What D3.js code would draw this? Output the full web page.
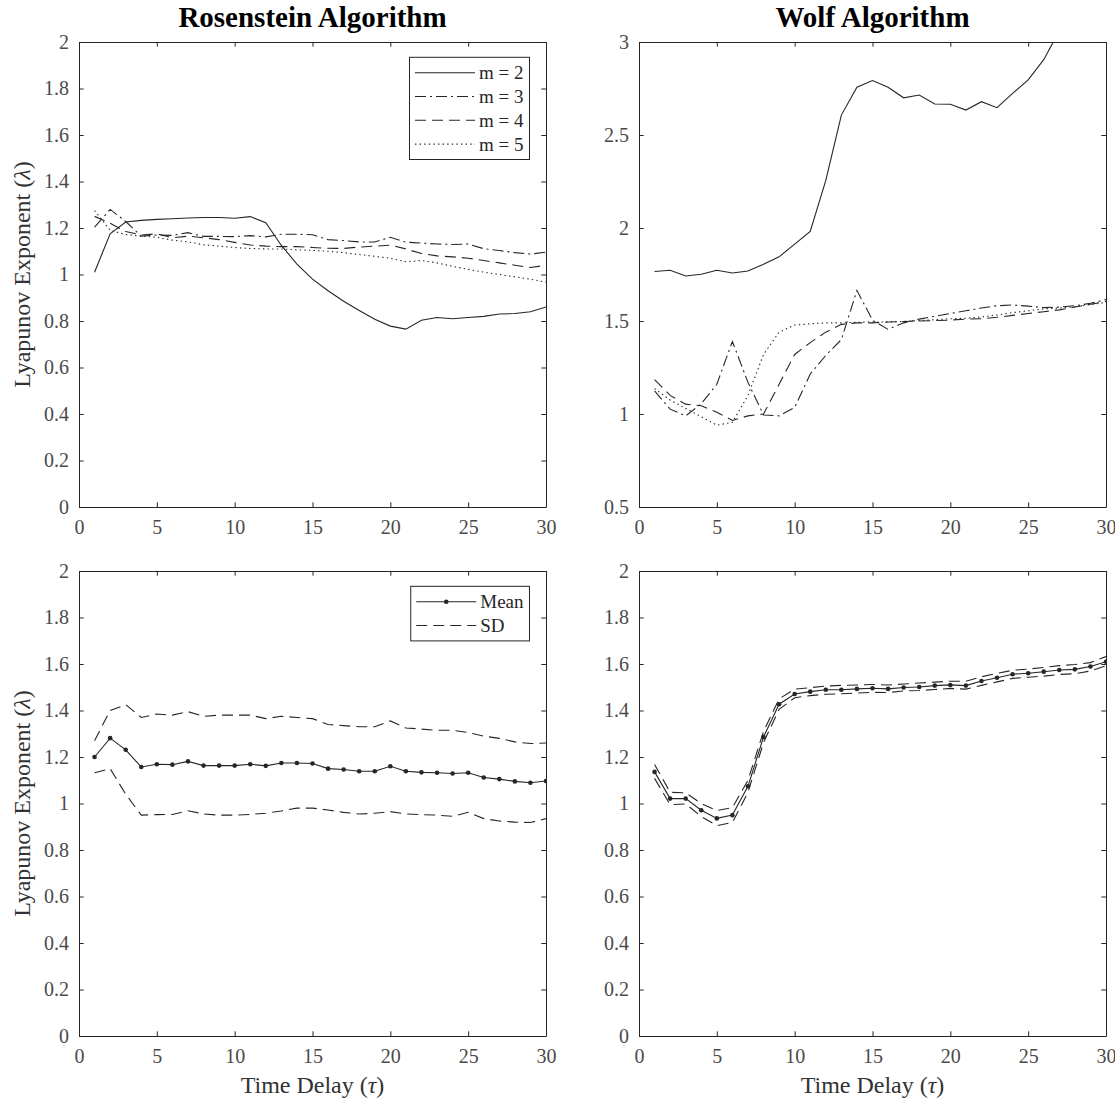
<!DOCTYPE html>
<html>
<head>
<meta charset="utf-8">
<script src="https://cdn.jsdelivr.net/npm/d3@7"></script>
<style>
  body { margin: 0; background: #fff; }
  svg { display: block; }
  svg text { font-family: "Liberation Serif", "Times New Roman", serif; }
</style>
</head>
<body>
<svg id="fig" width="1115" height="1103"></svg>
<script>
// ---- data ---------------------------------------------------------------
const tau = d3.range(1, 31);              // time delay 1..30
const xTicks = [0, 5, 10, 15, 20, 25, 30];
const rosYTicks = [0, 0.2, 0.4, 0.6, 0.8, 1, 1.2, 1.4, 1.6, 1.8, 2];
const wolfYTicks = [0.5, 1, 1.5, 2, 2.5, 3];

// Rosenstein estimates for embedding dimensions m = 2..5
const rosM2 = [1.01, 1.175, 1.226, 1.233, 1.237, 1.240, 1.243, 1.245, 1.245, 1.242,
               1.249, 1.223, 1.125, 1.045, 0.98, 0.93, 0.885, 0.845, 0.808, 0.778,
               0.765, 0.803, 0.815, 0.810, 0.815, 0.820, 0.830, 0.832, 0.840, 0.860];
const rosM3 = [1.204, 1.28, 1.228, 1.165, 1.17, 1.168, 1.18, 1.164, 1.164, 1.163,
               1.167, 1.162, 1.173, 1.173, 1.171, 1.15, 1.146, 1.14, 1.14, 1.16,
               1.139, 1.135, 1.131, 1.129, 1.131, 1.111, 1.103, 1.094, 1.088, 1.096];
const rosM4 = [1.25, 1.22, 1.185, 1.17, 1.175, 1.158, 1.165, 1.158, 1.15, 1.138,
               1.127, 1.122, 1.12, 1.12, 1.116, 1.113, 1.112, 1.118, 1.122, 1.126,
               1.11, 1.09, 1.08, 1.076, 1.07, 1.06, 1.05, 1.04, 1.03, 1.04];
const rosM5 = [1.275, 1.19, 1.172, 1.165, 1.16, 1.148, 1.14, 1.128, 1.122, 1.116,
               1.112, 1.11, 1.11, 1.106, 1.104, 1.10, 1.094, 1.086, 1.078, 1.07,
               1.055, 1.06, 1.05, 1.035, 1.022, 1.01, 1.0, 0.99, 0.98, 0.967];

// Rosenstein mean and the +/- SD envelope
const rosMean  = [1.2, 1.281, 1.231, 1.157, 1.169, 1.167, 1.181, 1.163, 1.163, 1.163,
                  1.169, 1.162, 1.174, 1.174, 1.172, 1.15, 1.146, 1.139, 1.139, 1.16,
                  1.139, 1.134, 1.132, 1.129, 1.132, 1.112, 1.105, 1.095, 1.089, 1.097];
const rosUpper = [1.27, 1.40, 1.425, 1.37, 1.385, 1.38, 1.395, 1.375, 1.38, 1.38,
                  1.38, 1.365, 1.375, 1.37, 1.365, 1.34, 1.335, 1.33, 1.33, 1.355,
                  1.325, 1.32, 1.315, 1.315, 1.305, 1.29, 1.28, 1.265, 1.258, 1.26];
const rosLower = [1.132, 1.15, 1.04, 0.95, 0.952, 0.953, 0.969, 0.955, 0.95, 0.95,
                  0.953, 0.958, 0.968, 0.98, 0.98, 0.972, 0.962, 0.955, 0.958, 0.965,
                  0.955, 0.952, 0.95, 0.945, 0.962, 0.935, 0.925, 0.92, 0.918, 0.935];

// Wolf estimates for embedding dimensions m = 2..5
const wolfM2 = [1.766, 1.773, 1.742, 1.751, 1.773, 1.758, 1.769, 1.805, 1.845, 1.913,
                1.982, 2.256, 2.607, 2.757, 2.793, 2.757, 2.70, 2.715, 2.667, 2.665,
                2.634, 2.679, 2.647, 2.724, 2.796, 2.905, 3.06];
const wolfM3 = [1.124, 1.026, 0.99, 1.055, 1.16, 1.39, 1.17, 0.995, 0.99, 1.035,
                1.215, 1.315, 1.40, 1.665, 1.505, 1.455, 1.49, 1.51, 1.525, 1.54,
                1.555, 1.57, 1.582, 1.586, 1.58, 1.572, 1.575, 1.582, 1.595, 1.615];
const wolfM4 = [1.185, 1.10, 1.053, 1.044, 1.009, 0.965, 0.99, 1.0, 1.16, 1.32,
                1.384, 1.44, 1.482, 1.49, 1.49, 1.495, 1.497, 1.50, 1.502, 1.505,
                1.51, 1.512, 1.52, 1.53, 1.54, 1.55, 1.56, 1.575, 1.59, 1.605];
const wolfM5 = [1.137, 1.075, 1.03, 0.985, 0.94, 0.955, 1.10, 1.32, 1.44, 1.478,
                1.485, 1.49, 1.49, 1.493, 1.495, 1.495, 1.498, 1.502, 1.507, 1.512,
                1.515, 1.522, 1.532, 1.545, 1.555, 1.565, 1.57, 1.577, 1.588, 1.60];

// Wolf mean and the +/- SD envelope
const wolfMean  = [1.136, 1.021, 1.021, 0.971, 0.936, 0.95, 1.074, 1.286, 1.427, 1.471,
                   1.481, 1.489, 1.489, 1.493, 1.496, 1.493, 1.499, 1.501, 1.507, 1.51,
                   1.507, 1.527, 1.541, 1.556, 1.56, 1.567, 1.574, 1.577, 1.589, 1.61];
const wolfUpper = [1.168, 1.048, 1.046, 1.0, 0.97, 0.982, 1.10, 1.31, 1.45, 1.492,
                   1.498, 1.505, 1.508, 1.51, 1.512, 1.51, 1.514, 1.518, 1.522, 1.526,
                   1.526, 1.545, 1.56, 1.573, 1.578, 1.585, 1.593, 1.598, 1.606, 1.632];
const wolfLower = [1.108, 0.995, 0.998, 0.944, 0.905, 0.918, 1.048, 1.262, 1.405, 1.455,
                   1.464, 1.47, 1.472, 1.475, 1.478, 1.477, 1.484, 1.486, 1.49, 1.495,
                   1.492, 1.508, 1.523, 1.538, 1.543, 1.548, 1.555, 1.558, 1.57, 1.592];

const dimLabels = ["m = 2", "m = 3", "m = 4", "m = 5"];

// ---- styling ------------------------------------------------------------
const SERIF = '"Liberation Serif", "Times New Roman", serif';
const INK = "#262626";
const LABEL = "#4a4a4a";
const DASH = {
  solid: null,
  dashdot: "11,4,2,4",
  dashed: "11,6",
  dotted: "1.4,3.2"
};

const svg = d3.select("#fig");
const W = 467, H = 465;
const colLeft = [79, 639];
const rowTop = [42, 571];
const tickLen = 4.7;
const fmt = d3.format(".1~f");

let clipCount = 0;

function drawPanel(cfg) {
  const g = svg.append("g").attr("transform", `translate(${cfg.left},${cfg.top})`);
  const x = d3.scaleLinear().domain([0, 30]).range([0, W]);
  const y = d3.scaleLinear().domain(cfg.yDomain).range([H, 0]);
  const line = d3.line().x(d => x(d.t)).y(d => y(d.v));

  const clipId = "clip" + (clipCount++);
  g.append("clipPath").attr("id", clipId)
    .append("rect").attr("width", W).attr("height", H);
  const plot = g.append("g").attr("clip-path", `url(#${clipId})`);

  cfg.series.forEach(s => {
    const pts = s.values.map((v, i) => ({ t: tau[i], v }));
    plot.append("path").datum(pts)
      .attr("d", line)
      .attr("fill", "none")
      .attr("stroke", INK)
      .attr("stroke-width", 1.1)
      .attr("stroke-dasharray", DASH[s.style]);
    if (s.marker) {
      plot.append("g").selectAll("circle").data(pts).join("circle")
        .attr("cx", d => x(d.t)).attr("cy", d => y(d.v))
        .attr("r", 2.3).attr("fill", INK);
    }
  });

  // axes on all four sides with inward ticks
  const styleAxis = sel => {
    sel.attr("font-family", null).attr("font-size", null);
    sel.selectAll(".domain").attr("stroke", INK).attr("stroke-width", 1);
    sel.selectAll(".tick line").attr("stroke", INK).attr("stroke-width", 1);
    sel.selectAll(".tick text")
      .style("font-family", SERIF).style("font-size", "20px")
      .attr("fill", LABEL);
  };
  g.append("g").attr("transform", `translate(0,${H})`)
    .call(d3.axisBottom(x).tickValues(xTicks).tickSize(-tickLen).tickSizeOuter(0).tickPadding(13))
    .call(styleAxis);
  g.append("g")
    .call(d3.axisTop(x).tickValues(xTicks).tickSize(-tickLen).tickSizeOuter(0).tickFormat(""))
    .call(styleAxis);
  g.append("g")
    .call(d3.axisLeft(y).tickValues(cfg.yTicks).tickSize(-tickLen).tickSizeOuter(0).tickPadding(10).tickFormat(fmt))
    .call(styleAxis);
  g.append("g").attr("transform", `translate(${W},0)`)
    .call(d3.axisRight(y).tickValues(cfg.yTicks).tickSize(-tickLen).tickSizeOuter(0).tickFormat(""))
    .call(styleAxis);

  if (cfg.title) {
    g.append("text")
      .attr("x", W / 2).attr("y", -15)
      .attr("text-anchor", "middle")
      .style("font-family", SERIF).style("font-size", "29px").style("font-weight", "bold")
      .attr("fill", "#000")
      .text(cfg.title);
  }
  if (cfg.ylabel) {
    const t = g.append("text")
      .attr("transform", `translate(${30 - cfg.left},${H / 2}) rotate(-90)`)
      .attr("text-anchor", "middle")
      .style("font-family", SERIF).style("font-size", "24px")
      .attr("fill", "#333");
    t.append("tspan").text("Lyapunov Exponent (");
    t.append("tspan").style("font-style", "italic").text("\u03BB");
    t.append("tspan").text(")");
  }
  if (cfg.xlabel) {
    const t = g.append("text")
      .attr("x", W / 2).attr("y", H + 57)
      .attr("text-anchor", "middle")
      .style("font-family", SERIF).style("font-size", "24px")
      .attr("fill", "#333");
    t.append("tspan").text("Time Delay (");
    t.append("tspan").style("font-style", "italic").text("\u03C4");
    t.append("tspan").text(")");
  }
  if (cfg.legend) drawLegend(g, cfg.legend);
}

function drawLegend(g, entries) {
  const boxRight = W - 16.5, boxTop = 15.3, pad = 15.4, rowGap = 23.8;
  const lg = g.append("g");
  const rect = lg.append("rect");
  const texts = entries.map((e, i) =>
    lg.append("text")
      .attr("y", boxTop + pad + i * rowGap)
      .attr("dy", "0.35em")
      .style("font-family", SERIF).style("font-size", "19px")
      .attr("fill", INK)
      .text(e.label));
  const maxW = d3.max(texts, t => t.node().getComputedTextLength());
  const textStart = boxRight - 6 - maxW;
  texts.forEach(t => t.attr("x", textStart));
  const lineEnd = textStart - 4, lineStart = lineEnd - 60;
  entries.forEach((e, i) => {
    const yy = boxTop + pad + i * rowGap;
    lg.append("line")
      .attr("x1", lineStart).attr("x2", lineEnd)
      .attr("y1", yy).attr("y2", yy)
      .attr("stroke", INK).attr("stroke-width", 1.1)
      .attr("stroke-dasharray", DASH[e.style]);
    if (e.marker) {
      lg.append("circle").attr("cx", (lineStart + lineEnd) / 2).attr("cy", yy)
        .attr("r", 2.3).attr("fill", INK);
    }
  });
  const boxLeft = lineStart - 5.5;
  rect.attr("x", boxLeft).attr("y", boxTop)
    .attr("width", boxRight - boxLeft)
    .attr("height", pad * 2 + (entries.length - 1) * rowGap)
    .attr("fill", "#fff").attr("stroke", INK).attr("stroke-width", 1);
}

const dimStyles = ["solid", "dashdot", "dashed", "dotted"];

drawPanel({
  left: colLeft[0], top: rowTop[0],
  yDomain: [0, 2], yTicks: rosYTicks,
  title: "Rosenstein Algorithm", ylabel: true,
  series: [rosM2, rosM3, rosM4, rosM5].map((v, i) => ({ values: v, style: dimStyles[i] })),
  legend: dimLabels.map((l, i) => ({ label: l, style: dimStyles[i] }))
});

drawPanel({
  left: colLeft[1], top: rowTop[0],
  yDomain: [0.5, 3], yTicks: wolfYTicks,
  title: "Wolf Algorithm",
  series: [wolfM2, wolfM3, wolfM4, wolfM5].map((v, i) => ({ values: v, style: dimStyles[i] }))
});

drawPanel({
  left: colLeft[0], top: rowTop[1],
  yDomain: [0, 2], yTicks: rosYTicks,
  ylabel: true, xlabel: true,
  series: [
    { values: rosUpper, style: "dashed" },
    { values: rosLower, style: "dashed" },
    { values: rosMean, style: "solid", marker: true }
  ],
  legend: [
    { label: "Mean", style: "solid", marker: true },
    { label: "SD", style: "dashed" }
  ]
});

drawPanel({
  left: colLeft[1], top: rowTop[1],
  yDomain: [0, 2], yTicks: rosYTicks,
  xlabel: true,
  series: [
    { values: wolfUpper, style: "dashed" },
    { values: wolfLower, style: "dashed" },
    { values: wolfMean, style: "solid", marker: true }
  ]
});
</script>
</body>
</html>
